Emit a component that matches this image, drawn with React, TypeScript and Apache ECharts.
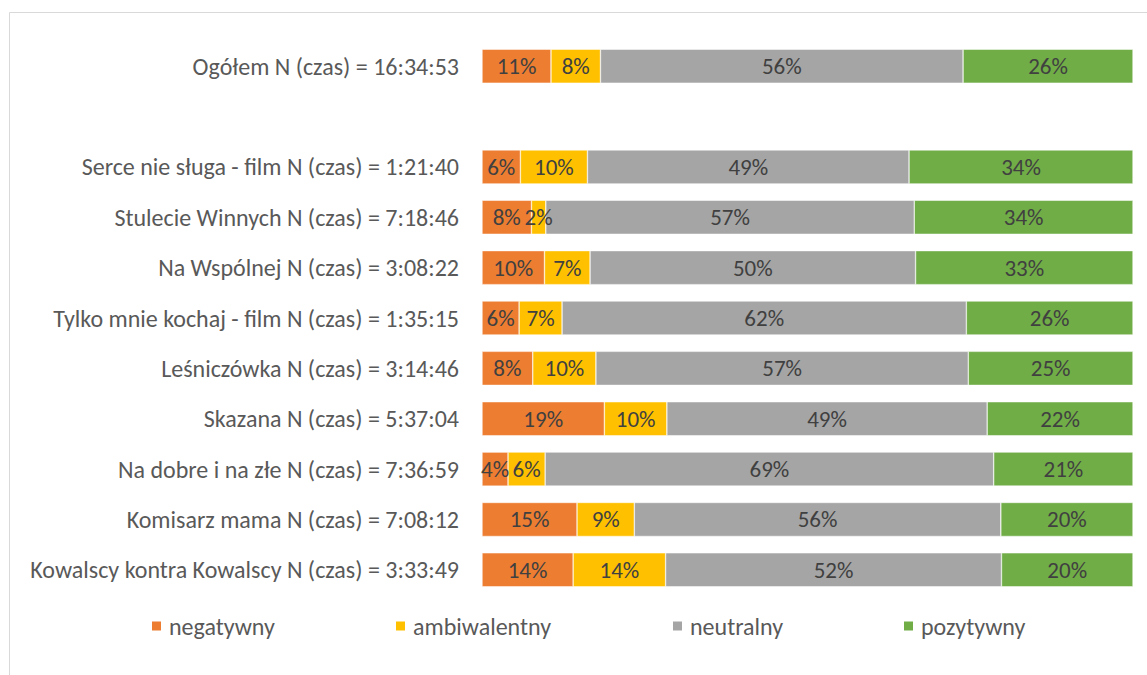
import React, { useEffect, useRef } from "react";
import * as echarts from "echarts";

const categories = [
  "Ogółem N (czas) = 16:34:53",
  "",
  "Serce nie sługa - film N (czas) = 1:21:40",
  "Stulecie Winnych N (czas) = 7:18:46",
  "Na Wspólnej N (czas) = 3:08:22",
  "Tylko mnie kochaj - film N (czas) = 1:35:15",
  "Leśniczówka N (czas) = 3:14:46",
  "Skazana N (czas) = 5:37:04",
  "Na dobre i na złe N (czas) = 7:36:59",
  "Komisarz mama N (czas) = 7:08:12",
  "Kowalscy kontra Kowalscy N (czas) = 3:33:49",
];

const negatywny = [10.6, "-", 5.9, 7.6, 9.6, 5.7, 7.8, 18.8, 4.0, 14.6, 14.0];
const ambiwalentny = [7.6, "-", 10.3, 2.2, 7.0, 6.6, 9.7, 9.6, 5.7, 8.8, 14.2];
const neutralny = [55.7, "-", 49.4, 56.6, 50.0, 62.1, 57.2, 49.2, 68.9, 56.3, 51.6];
const pozytywny = [26.1, "-", 34.4, 33.6, 33.4, 25.6, 25.3, 22.4, 21.4, 20.3, 20.2];

const seriesNames = ["negatywny", "ambiwalentny", "neutralny", "pozytywny"];
const seriesColors = ["#ED7D31", "#FFC000", "#A5A5A5", "#70AD47"];
const legendLefts = [145, 389, 666, 897];

const FONT = "Carlito, 'Open Sans', sans-serif";

export default function App() {
  const ref = useRef<HTMLDivElement>(null);
  useEffect(() => {
    if (!ref.current) return;
    const chart = echarts.init(ref.current, null, { renderer: "svg" });
    const data = [negatywny, ambiwalentny, neutralny, pozytywny];
    chart.setOption({
      animation: false,
      textStyle: { fontFamily: FONT },
      graphic: [
        {
          type: "rect",
          shape: { x: 9.5, y: 12.5, width: 1300, height: 800 },
          style: { fill: "none", stroke: "#D9D9D9", lineWidth: 1 },
          silent: true,
        },
      ],
      legend: seriesNames.map((n, i) => ({
        data: [n],
        left: legendLefts[i],
        top: 609,
        itemWidth: 11,
        itemHeight: 11,
        itemGap: 6,
        icon: "rect",
        textStyle: { color: "#595959", fontSize: 24, fontFamily: FONT, padding: [0, 0, 0, 2] },
      })),
      grid: { left: 482, right: 14, top: 41, bottom: 80, containLabel: false },
      xAxis: {
        type: "value",
        min: 0,
        max: 100,
        show: false,
      },
      yAxis: {
        type: "category",
        inverse: true,
        data: categories,
        axisLine: { show: false },
        axisTick: { show: false },
        axisLabel: { color: "#595959", fontSize: 24, margin: 23, fontFamily: FONT },
      },
      series: seriesNames.map((n, i) => ({
        name: n,
        type: "bar",
        stack: "total",
        barWidth: 34,
        data: data[i],
        itemStyle: { color: seriesColors[i], borderColor: "#FFFFFF", borderWidth: 0.5 },
        label: {
          show: true,
          position: "inside",
          color: "#404040",
          fontSize: 23,
          fontFamily: FONT,
          formatter: (p: any) => Math.round(p.value) + "%",
        },
      })),
    });
    return () => chart.dispose();
  }, []);
  return (
    <div
      ref={ref}
      style={{ position: "absolute", left: 0, top: 0, width: 1147, height: 675 }}
    />
  );
}
